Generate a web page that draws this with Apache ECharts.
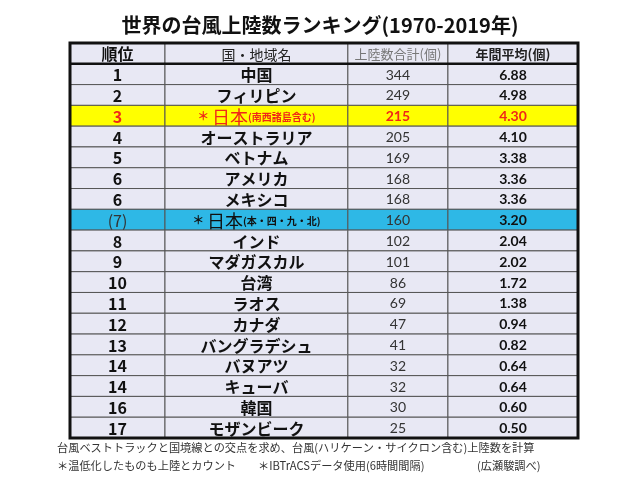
<!DOCTYPE html>
<html>
<head>
<meta charset="utf-8">
<script src="https://cdn.jsdelivr.net/npm/echarts@6/dist/echarts.min.js"></script>
<style>
  html, body { margin: 0; padding: 0; background: #fff; }
  #main { width: 640px; height: 480px; }
</style>
</head>
<body>
<div id="main"></div>
<script>
// 表のデータ
var headers = ['順位', '国・地域名', '上陸数合計(個)', '年間平均(個)']
var ranks = ['1', '2', '3', '4', '5', '6', '6', '(7)', '8', '9', '10', '11', '12', '13', '14', '14', '16', '17']
var countries = ['中国', 'フィリピン', '日本', 'オーストラリア', 'ベトナム', 'アメリカ', 'メキシコ', '日本', 'インド',
  'マダガスカル', '台湾', 'ラオス', 'カナダ', 'バングラデシュ', 'バヌアツ', 'キューバ', '韓国', 'モザンビーク']
var notes = ['', '', '(南西諸島含む)', '', '', '', '', '(本・四・九・北)', '', '', '', '', '', '', '', '', '', '']
var totals = [344, 249, 215, 205, 169, 168, 168, 160, 102, 101, 86, 69, 47, 41, 32, 32, 30, 25]
var averages = [6.88, 4.98, 4.30, 4.10, 3.38, 3.36, 3.36, 3.20, 2.04, 2.02, 1.72, 1.38, 0.94, 0.82, 0.64, 0.64, 0.60, 0.50]

var colEdges = [0, 18.7, 54.7, 74.4, 100] /* 列の境界(%) */
var JP = '"Noto Sans CJK JP", "Noto Sans", sans-serif'
var NUM = 'Lato, "Open Sans", sans-serif'

var rowKeys = ['h'].concat(ranks.map(function (r, i) { return 'r' + i }))
var cells = []
for (var r = 0; r < rowKeys.length; r++) {
  for (var c = 0; c < 4; c++) cells.push([c, r])
}

function rowFill(r) {
  if (r === 3) return '#FFFF00'
  if (r === 8) return '#2EB8E6'
  return '#E8E8F4'
}

function cellText(c, r) {
  if (r === 0) {
    var hs = [
      { fontFamily: JP, fontSize: 16, fontWeight: 'bold', fill: '#111' },
      { fontFamily: JP, fontSize: 14, fontWeight: 'normal', fill: '#222' },
      { fontFamily: JP, fontSize: 13, fontWeight: 'normal', fill: '#777' },
      { fontFamily: JP, fontSize: 13, fontWeight: 'bold', fill: '#222' }
    ][c]
    hs.text = headers[c]
    return hs
  }
  var i = r - 1
  var red = (i === 2)
  var color = red ? '#F02818' : '#111'
  if (c === 0) {
    return { text: ranks[i], fontFamily: JP, fontSize: 16, fontWeight: i === 7 ? 'normal' : 'bold', fill: i === 7 ? '#333' : color }
  }
  if (c === 1) {
    if (notes[i]) {
      return {
        text: '{s|＊ }{j|' + countries[i] + '}{n|' + notes[i] + '}',
        fill: color,
        rich: {
          s: { fontFamily: JP, fontSize: 12, fontWeight: 'bold', fill: color },
          j: { fontFamily: JP, fontSize: 18, fontWeight: 'normal', fill: color },
          n: { fontFamily: JP, fontSize: 10, fontWeight: 'bold', fill: color }
        }
      }
    }
    return { text: countries[i], fontFamily: JP, fontSize: 16, fontWeight: 'bold', fill: '#111' }
  }
  if (c === 2) {
    return { text: String(totals[i]), fontFamily: NUM, fontSize: 14, fontWeight: red ? 'bold' : 'normal', fill: red ? color : '#333' }
  }
  return { text: averages[i].toFixed(2), fontFamily: NUM, fontSize: 14, fontWeight: 'bold', fill: color }
}

function renderCell(params, api) {
  var c = api.value(0), r = api.value(1)
  var h = api.size([0, 1])[1]
  var p0 = api.coord([colEdges[c], r])
  var p1 = api.coord([colEdges[c + 1], r])
  var x = p0[0], y = p0[1] - h / 2, w = p1[0] - p0[0]
  var ts = cellText(c, r)
  ts.x = x + w / 2
  ts.y = p0[1] + 1
  ts.align = 'center'
  ts.verticalAlign = 'middle'
  return {
    type: 'group',
    children: [
      { type: 'rect', shape: { x: x, y: y, width: w, height: h }, style: { fill: rowFill(r), stroke: '#555', lineWidth: 1 } },
      { type: 'text', style: ts }
    ]
  }
}

// 外枠と見出し下の太線
function renderFrame(params, api) {
  var h = api.size([0, 1])[1]
  var tl = api.coord([colEdges[0], 0])
  var br = api.coord([colEdges[4], rowKeys.length - 1])
  var top = tl[1] - h / 2, bottom = br[1] + h / 2
  return {
    type: 'group',
    children: [
      { type: 'rect', shape: { x: tl[0], y: top, width: br[0] - tl[0], height: bottom - top }, style: { fill: 'none', stroke: '#111', lineWidth: 3 } },
      { type: 'line', shape: { x1: tl[0], y1: top + h, x2: br[0], y2: top + h }, style: { stroke: '#111', lineWidth: 2.5 } }
    ]
  }
}

var myChart = echarts.init(document.getElementById('main'))
var option = {
  backgroundColor: '#fff',
  animation: false,
  title: {
    text: '世界の台風上陸数ランキング(1970-2019年)',
    left: 'center',
    top: 10,
    textStyle: { fontFamily: JP, fontSize: 20, fontWeight: 'bold', color: '#111' }
  },
  grid: { left: 70, right: 62, top: 43, bottom: 42 },
  xAxis: { type: 'value', min: 0, max: 100, show: false },
  yAxis: { type: 'category', data: rowKeys, inverse: true, show: false },
  series: [
    { type: 'custom', renderItem: renderCell, data: cells, silent: true },
    { type: 'custom', renderItem: renderFrame, data: [[0, 0]], silent: true, z: 3 }
  ],
  graphic: [
    {
      type: 'text', left: 57, top: 442,
      style: { text: '台風ベストトラックと国境線との交点を求め、台風(ハリケーン・サイクロン含む)上陸数を計算', fontFamily: JP, fontSize: 11.2, fill: '#333' }
    },
    {
      type: 'text', left: 57, top: 460,
      style: { text: '＊温低化したものも上陸とカウント', fontFamily: JP, fontSize: 11.2, fill: '#333' }
    },
    {
      type: 'text', left: 258, top: 460,
      style: { text: '＊IBTrACSデータ使用(6時間間隔)', fontFamily: JP, fontSize: 11.2, fill: '#333' }
    },
    {
      type: 'text', left: 477, top: 460,
      style: { text: '(広瀬駿調べ)', fontFamily: JP, fontSize: 11.2, fill: '#333' }
    }
  ]
}
myChart.setOption(option)
</script>
</body>
</html>
